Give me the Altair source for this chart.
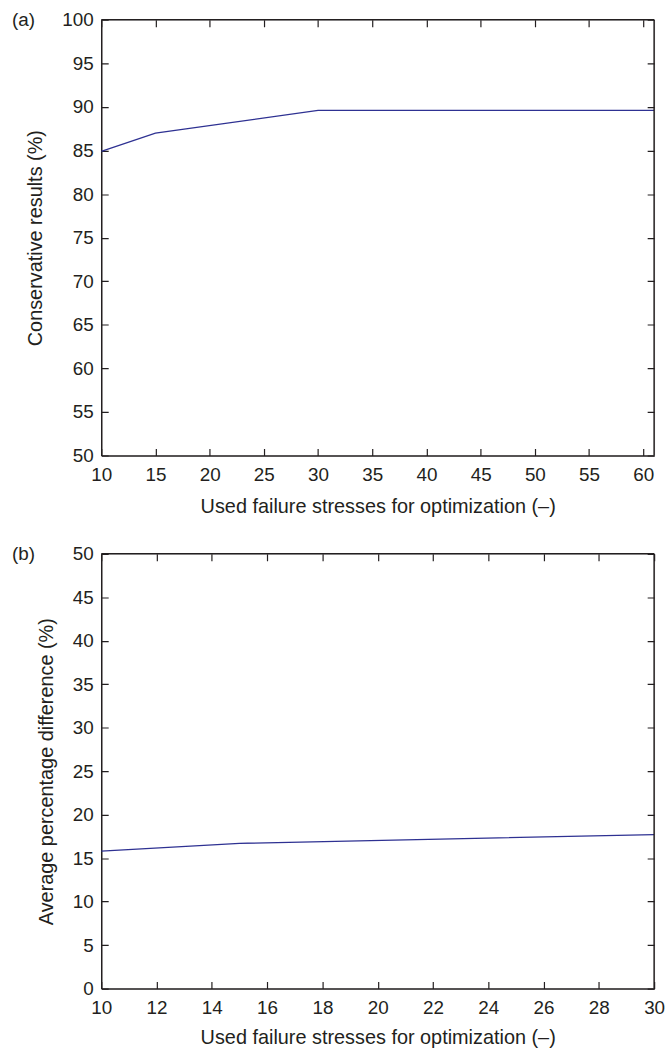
import altair as alt
import pandas as pd

# ---- data ----
a_x = [10, 15, 30, 61]
a_y = [84.9, 87.0, 89.6, 89.6]
a_xdom = [10, 61]
a_ydom = [50, 100]
a_xticks = [10, 15, 20, 25, 30, 35, 40, 45, 50, 55, 60]
a_yticks = [50, 55, 60, 65, 70, 75, 80, 85, 90, 95, 100]

b_x = [10, 15, 30]
b_y = [15.8, 16.7, 17.7]
b_xdom = [10, 30]
b_ydom = [0, 50]
b_xticks = [10, 12, 14, 16, 18, 20, 22, 24, 26, 28, 30]
b_yticks = [0, 5, 10, 15, 20, 25, 30, 35, 40, 45, 50]

XTITLE = "Used failure stresses for optimization (\u2013)"
A_YTITLE = "Conservative results (%)"
B_YTITLE = "Average percentage difference (%)"

FONT = "Liberation Sans"
TEXT = "#231f20"
FRAME = "#231f20"
BLUE = "#2e3192"
TICK = 7

AXIS_STYLE = dict(
    domain=True, domainColor=FRAME, domainWidth=1.5,
    ticks=False, labelFlush=False, format="d",
    grid=True, gridColor=FRAME, gridWidth=1.2, gridOpacity=1,
    labelFont=FONT, labelFontSize=19, labelColor=TEXT,
    titleFont=FONT, titleFontSize=20, titleFontWeight="normal", titleColor=TEXT,
)


def panel(xs, ys, xdom, xticks, ydom, yticks, ytitle, tag, W, H, lpad, tpad):
    df = pd.DataFrame({"x": xs, "y": ys})
    xscale = alt.Scale(domain=xdom, nice=False, zero=False)
    yscale = alt.Scale(domain=ydom, nice=False, zero=False)
    # grid lines dashed so that only short inward ticks remain at both edges
    xaxis = alt.Axis(values=xticks, title=XTITLE, labelPadding=lpad, titlePadding=tpad,
                     gridDash=[TICK, H - 2 * TICK], **AXIS_STYLE)
    yaxis = alt.Axis(values=yticks, title=ytitle, labelPadding=8, titlePadding=16,
                     gridDash=[TICK, W - 2 * TICK], **AXIS_STYLE)
    X = alt.X("x:Q", scale=xscale, axis=xaxis)
    Y = alt.Y("y:Q", scale=yscale, axis=yaxis)

    line = alt.Chart(df).mark_line(clip=True, color=BLUE, strokeWidth=1.3).encode(x=X, y=Y)

    one = pd.DataFrame({"k": [0]})
    layers = [line]
    # frame: top and right edges (bottom/left are the axis domains)
    layers.append(alt.Chart(one).mark_rule(color=FRAME, strokeWidth=1.5).encode(
        x=alt.value(0), x2=alt.value(W), y=alt.value(0)))
    layers.append(alt.Chart(one).mark_rule(color=FRAME, strokeWidth=1.5).encode(
        x=alt.value(W), y=alt.value(0), y2=alt.value(H)))
    layers.append(alt.Chart(pd.DataFrame({"label": [tag]})).mark_text(
        align="left", baseline="middle", fontSize=19, font=FONT, color=TEXT
    ).encode(x=alt.value(-90), y=alt.value(0), text="label:N"))

    return alt.layer(*layers).properties(width=W, height=H)


pa = panel(a_x, a_y, a_xdom, a_xticks, a_ydom, a_yticks, A_YTITLE, "(a)", 557, 439, 10, 12)
pb = panel(b_x, b_y, b_xdom, b_xticks, b_ydom, b_yticks, B_YTITLE, "(b)", 557, 438, 10, 10)

chart = alt.vconcat(pa, pb, spacing=27).properties(
    padding={"left": 11, "top": 6, "right": 5, "bottom": 2},
).configure(background="white")

chart.save("out.html", embed_options={"renderer": "svg", "actions": False})
